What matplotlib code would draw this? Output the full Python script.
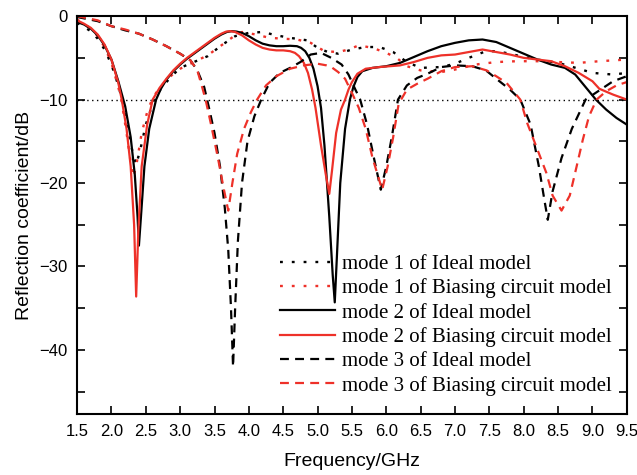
import matplotlib
matplotlib.use('Agg')
import matplotlib.pyplot as plt
from matplotlib.ticker import MultipleLocator, FormatStrFormatter

# mode 1, ideal model (black dotted)
m1_ideal_f = [1.5, 1.7, 1.8, 1.9, 2.0, 2.1, 2.17, 2.24, 2.3, 2.36, 2.42, 2.5, 2.62, 2.72, 2.8, 2.9, 3.0,
              3.2, 3.4, 3.6, 3.8, 4.0, 4.2, 4.4, 4.6, 4.85, 5.0, 5.15, 5.3, 5.5, 5.7, 5.9,
              6.1, 6.3, 6.5, 6.8, 7.0, 7.2, 7.45, 7.6, 7.8, 8.0, 8.2, 8.5, 8.8, 9.0, 9.3, 9.5]
m1_ideal_s = [-0.8, -1.8, -2.7, -4.0, -5.8, -8.3, -10.5, -13.5, -16, -17.8, -16, -13, -10, -8.7, -7.9, -7.0, -6.2,
              -5.5, -4.8, -3.5, -2.4, -2.0, -1.9, -2.3, -2.6, -2.9, -3.8, -4.3, -4.5, -4.0, -3.7, -3.7,
              -4.3, -5.5, -6.2, -6.1, -5.7, -5.0, -4.2, -4.2, -4.5, -4.9, -5.2, -5.6, -6.3, -6.8, -7.0, -6.8]

# mode 1, biasing circuit model (red dotted)
m1_bias_f = [1.5, 1.7, 1.8, 1.9, 2.0, 2.1, 2.15, 2.22, 2.28, 2.32, 2.37, 2.44, 2.52, 2.6, 2.7, 2.8, 2.9,
             3.0, 3.2, 3.4, 3.6, 3.8, 3.9, 4.1, 4.3, 4.5, 4.7, 4.9, 5.1, 5.3, 5.45, 5.6,
             5.8, 6.0, 6.15, 6.3, 6.5, 6.8, 7.0, 7.3, 7.6, 7.9, 8.2, 8.5, 8.8, 9.1, 9.3, 9.5]
m1_bias_s = [-0.4, -1.5, -2.4, -3.7, -5.6, -8.5, -10.3, -14, -17.5, -19.3, -17.5, -14, -11.5, -9.8, -8.6, -7.7, -6.9,
             -6.3, -5.5, -4.7, -3.5, -2.3, -1.9, -2.2, -2.6, -2.7, -2.8, -3.2, -4.2, -4.3, -4.0, -3.5,
             -3.8, -4.4, -5.0, -6.0, -6.5, -6.7, -6.4, -5.8, -5.5, -5.4, -5.4, -5.5, -5.6, -5.4, -5.3, -5.2]

# mode 2, ideal model (black solid)
m2_ideal_f = [1.5, 1.6, 1.7, 1.8, 1.9, 2.0, 2.1, 2.2, 2.28, 2.34, 2.38, 2.40, 2.43, 2.48, 2.55, 2.65,
              2.72, 2.8, 2.9, 3.0, 3.1, 3.2, 3.3, 3.4, 3.5, 3.6, 3.68, 3.75, 3.82, 3.9, 4.0, 4.1, 4.2,
              4.3, 4.4, 4.5, 4.6, 4.7, 4.76, 4.82, 4.88, 4.94, 5.0, 5.05,
              5.1, 5.17, 5.22, 5.25, 5.28, 5.33, 5.4, 5.47, 5.52, 5.58, 5.65, 5.8, 6.0, 6.2, 6.4, 6.6,
              6.8, 7.0, 7.2, 7.4, 7.6, 7.8, 8.0, 8.2, 8.4, 8.6, 8.75, 8.9, 9.05, 9.2, 9.35, 9.5]
m2_ideal_s = [-0.7, -1.0, -1.5, -2.3, -3.5, -5.2, -7.8, -10.8, -14.5, -19, -24, -27.5, -24, -18, -13.5, -10,
              -8.7, -7.6, -6.6, -5.8, -5.1, -4.5, -3.9, -3.3, -2.7, -2.2, -1.9, -1.8, -1.85, -2.0, -2.4, -2.9, -3.3,
              -3.5, -3.6, -3.6, -3.55, -3.6, -3.8, -4.2, -5.0, -6.3, -8.4, -11,
              -15.5, -24, -31, -34.3, -29, -20, -13.5, -10, -8.5, -7.3, -6.6, -6.2, -6.0, -5.6, -4.9, -4.2,
              -3.6, -3.2, -2.9, -2.8, -3.1, -3.8, -4.5, -5.2, -5.8, -6.2, -7.0, -8.5, -10, -11.2, -12.2, -13]

# mode 2, biasing circuit model (red solid)
m2_bias_f = [1.5, 1.6, 1.7, 1.8, 1.9, 2.0, 2.1, 2.15, 2.22, 2.28, 2.33, 2.36, 2.39, 2.44, 2.52, 2.6,
             2.7, 2.8, 2.9, 3.0, 3.1, 3.2, 3.3, 3.4, 3.5, 3.6, 3.67, 3.73, 3.8, 3.9, 4.0, 4.1, 4.2,
             4.3, 4.4, 4.5, 4.6, 4.67, 4.73, 4.8, 4.86, 4.92, 4.97,
             5.05, 5.12, 5.17, 5.21, 5.27, 5.34, 5.40, 5.45, 5.5, 5.58, 5.7, 5.9, 6.2, 6.4, 6.6, 6.8,
             7.0, 7.2, 7.4, 7.6, 7.8, 8.0, 8.2, 8.4, 8.6, 8.8, 9.0, 9.1, 9.3, 9.5]
m2_bias_s = [-0.5, -0.9, -1.4, -2.2, -3.4, -5.2, -8, -10, -13.5, -18, -25, -33.6, -26, -18, -13, -10,
             -8.6, -7.5, -6.5, -5.7, -5.0, -4.4, -3.8, -3.2, -2.6, -2.1, -1.85, -1.8, -1.9, -2.3, -2.9, -3.4, -3.8,
             -4.0, -4.1, -4.1, -4.2, -4.4, -4.8, -5.6, -6.8, -8.8, -11,
             -15.5, -19, -21.3, -18.5, -14, -11.2, -10, -8.8, -7.9, -6.9, -6.3, -6.1, -5.9, -5.5, -5.0, -4.7,
             -4.6, -4.3, -4.0, -4.3, -4.6, -5.0, -5.2, -5.4, -6.0, -6.8, -7.8, -8.7, -9.4, -10]

# mode 3, ideal model (black dashed)
m3_ideal_f = [1.5, 1.8, 2.0, 2.2, 2.4, 2.6, 2.8, 3.0, 3.15, 3.25, 3.35, 3.42, 3.5, 3.58, 3.65,
              3.7, 3.74, 3.77, 3.80, 3.84, 3.9, 3.98, 4.08, 4.18, 4.3, 4.45, 4.6, 4.75, 4.9, 5.05,
              5.2, 5.35, 5.45, 5.55, 5.62, 5.72, 5.82, 5.92, 6.0, 6.08, 6.17, 6.3, 6.45, 6.6, 6.8,
              7.0, 7.25, 7.45, 7.6, 7.8, 7.95, 8.1, 8.22, 8.3, 8.35, 8.42, 8.55, 8.7, 8.9, 9.1, 9.3, 9.5]
m3_ideal_s = [-0.1, -0.6, -1.2, -1.7, -2.1, -2.8, -3.6, -4.5, -5.3, -6.5, -8.5, -11, -14, -18, -23,
              -28, -35, -42, -35, -27, -20, -15, -12, -10, -8, -6.8, -6.2, -5.5, -4.6, -4.4,
              -5.0, -5.8, -7, -8.8, -10, -13, -17, -20.8, -18, -14.5, -10, -8.3, -7.4, -6.9, -6.1,
              -5.9, -6.0, -6.5, -7.5, -8.8, -10, -13, -18, -22, -24.4, -21, -17, -13.5, -10, -8.9, -7.8, -7.2]

# mode 3, biasing circuit model (red dashed)
m3_bias_f = [1.5, 1.8, 2.0, 2.2, 2.4, 2.6, 2.8, 3.0, 3.15, 3.25, 3.32, 3.37, 3.45, 3.55, 3.63,
             3.70, 3.76, 3.83, 3.93, 4.03, 4.12, 4.25, 4.4, 4.6, 4.8, 5.0, 5.13, 5.2, 5.3, 5.4,
             5.5, 5.6, 5.7, 5.8, 5.94, 6.02, 6.1, 6.18, 6.3, 6.45, 6.6, 6.8, 7.0, 7.25, 7.46,
             7.6, 7.75, 7.95, 8.05, 8.2, 8.33, 8.42, 8.55, 8.67, 8.77, 8.86, 8.95, 9.06, 9.2, 9.35, 9.5]
m3_bias_s = [0.0, -0.5, -1.2, -1.6, -2.1, -2.8, -3.6, -4.5, -5.3, -6.5, -8.5, -10, -13, -17, -20.5,
             -23.3, -20, -16.5, -13.5, -11.5, -10, -8.3, -7.2, -6.3, -5.9, -5.7, -5.9, -6.1, -6.7, -7.5,
             -9.2, -11, -13.5, -17, -20.8, -18, -14.5, -10.5, -8.8, -8.1, -7.5, -6.6, -6.1, -6.0, -6.5,
             -7.2, -8.0, -10, -12.8, -16, -18.8, -21.5, -23.3, -21.5, -18, -14.8, -12, -10, -9, -8.3, -7.9]

labels = ['mode 1 of Ideal model', 'mode 1 of Biasing circuit model',
          'mode 2 of Ideal model', 'mode 2 of Biasing circuit model',
          'mode 3 of Ideal model', 'mode 3 of Biasing circuit model']

RED = '#ee3129'
dot = (0, (1.2, 3.8))
dash = (0, (4, 2.8))

fig = plt.figure(figsize=(6.37, 4.75), dpi=100)
ax = fig.add_axes([0.121, 0.128, 0.863, 0.838])

ax.axhline(-10, color='black', lw=1.0, linestyle=(0, (1, 2.5)))

ax.plot(m1_ideal_f, m1_ideal_s, color='black', lw=1.7, linestyle=dot, label=labels[0])
ax.plot(m1_bias_f, m1_bias_s, color=RED, lw=1.7, linestyle=dot, label=labels[1])
ax.plot(m2_ideal_f, m2_ideal_s, color='black', lw=1.6, label=labels[2])
ax.plot(m2_bias_f, m2_bias_s, color=RED, lw=1.6, label=labels[3])
ax.plot(m3_ideal_f, m3_ideal_s, color='black', lw=1.6, linestyle=dash, label=labels[4])
ax.plot(m3_bias_f, m3_bias_s, color=RED, lw=1.6, linestyle=dash, label=labels[5])

ax.set_xlim(1.5, 9.5)
ax.set_ylim(-47.7, 0)
ax.xaxis.set_major_locator(MultipleLocator(0.5))
ax.xaxis.set_major_formatter(FormatStrFormatter('%.1f'))
ax.yaxis.set_major_locator(MultipleLocator(10))
ax.yaxis.set_minor_locator(MultipleLocator(5))
ax.tick_params(which='both', direction='in', top=True, right=True, width=1.2)
ax.tick_params(which='major', length=6, labelsize=12, pad=7)
ax.tick_params(which='minor', length=6)
for lab in ax.get_xticklabels() + ax.get_yticklabels():
    lab.set_family('Liberation Sans')
for sp in ax.spines.values():
    sp.set_linewidth(1.5)

ax.set_xlabel('Frequency/GHz', fontsize=14, family='Liberation Sans', labelpad=10)
ax.set_ylabel('Reflection coefficient/dB', fontsize=14, family='Liberation Sans', labelpad=4)

ax.legend(loc='lower right', bbox_to_anchor=(0.995, 0.015), frameon=False,
          prop={'family': 'Liberation Serif', 'size': 15}, handlelength=2.6,
          handletextpad=0.35, labelspacing=0.22, borderaxespad=0.2)

fig.savefig('out.png', dpi=100)
